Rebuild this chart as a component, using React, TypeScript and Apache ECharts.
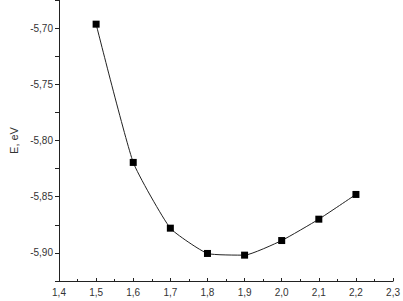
import React, { useEffect, useRef } from "react";
import * as echarts from "echarts";

const xValues = [1.5, 1.6, 1.7, 1.8, 1.9, 2.0, 2.1, 2.2];
const energies = [-5.6965, -5.8195, -5.878, -5.9005, -5.902, -5.889, -5.870, -5.848];
const yAxisName = "E, eV";

const fmt = (v: number, d: number) => v.toFixed(d).replace(".", ",");

export default function App() {
  const ref = useRef<HTMLDivElement>(null);
  useEffect(() => {
    if (!ref.current) return;
    const chart = echarts.init(ref.current, null, { renderer: "svg" });
    const font = "'Liberation Sans', Arial, sans-serif";
    chart.setOption({
      animation: false,
      backgroundColor: "#ffffff",
      grid: { left: 53, right: 6, top: 0, bottom: 20, containLabel: false },
      xAxis: {
        type: "value",
        min: 1.4,
        max: 2.3,
        interval: 0.1,
        axisLine: { show: true, lineStyle: { color: "#222", width: 1 } },
        axisTick: { show: true, inside: true, length: 3, lineStyle: { color: "#222" } },
        minorTick: { show: true, splitNumber: 2, length: 2, lineStyle: { color: "#222" } },
        splitLine: { show: false },
        axisLabel: {
          color: "#333",
          fontSize: 10,
          fontFamily: font,
          margin: 6,
          formatter: (v: number) => fmt(v, 1),
        },
      },
      yAxis: {
        type: "value",
        min: -5.925,
        max: -5.675,
        interval: 0.025,
        name: yAxisName,
        nameLocation: "middle",
        nameGap: 40,
        nameRotate: 90,
        nameTextStyle: { color: "#333", fontSize: 11, fontFamily: font },
        axisLine: { show: true, lineStyle: { color: "#222", width: 1 } },
        axisTick: { show: true, inside: false, length: 4, lineStyle: { color: "#222" } },
        splitLine: { show: false },
        axisLabel: {
          color: "#333",
          fontSize: 10,
          fontFamily: font,
          margin: 6,
          formatter: (v: number) => {
            const k = Math.round(v / 0.025);
            if (k % 2 !== 0) return "";
            if (v > -5.69 || v < -5.91) return "";
            return fmt(v, 2);
          },
        },
      },
      series: [
        {
          type: "line",
          data: xValues.map((x, i) => [x, energies[i]]),
          smooth: 0.15,
          symbol: "rect",
          symbolSize: 7,
          itemStyle: { color: "#000" },
          lineStyle: { color: "#222", width: 1 },
        },
      ],
    });
    return () => chart.dispose();
  }, []);
  return (
    <div
      ref={ref}
      style={{ position: "fixed", left: 0, top: 0, width: 403, height: 301, background: "#fff" }}
    />
  );
}
